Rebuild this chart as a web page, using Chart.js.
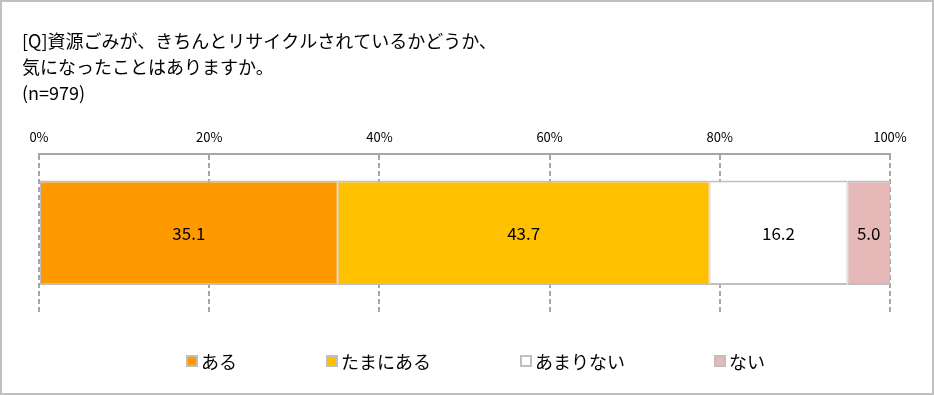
<!DOCTYPE html>
<html>
<head>
<meta charset="utf-8">
<script src="https://cdn.jsdelivr.net/npm/chart.js@4/dist/chart.umd.min.js"></script>
<style>
  body { margin: 0; background: #fff; }
  #wrap { position: relative; width: 934px; height: 395px; }
  #wrap:after { content: ""; position: absolute; left: 0; top: 0; right: 0; bottom: 0;
    border: 2px solid #c0c0c0; pointer-events: none; }
</style>
</head>
<body>
<div id="wrap"><canvas id="out" width="934" height="395"></canvas></div>
<script>
// data
const titleLines = ["[Q]資源ごみが、きちんとリサイクルされているかどうか、", "気になったことはありますか。", "(n=979)"];
const categories = [""];
const seriesNames = ["ある", "たまにある", "あまりない", "ない"];
const seriesValues = [[35.1], [43.7], [16.2], [5.0]];
const seriesColors = ["#ff9900", "#ffc000", "#ffffff", "#e6b9b8"];
const xTicks = [0, 20, 40, 60, 80, 100];

const jpFont = "'Noto Sans CJK JP', 'Noto Sans', sans-serif";

// numbers inside the bars
const valueLabels = {
  id: "valueLabels",
  afterDatasetsDraw(chart) {
    const ctx = chart.ctx;
    ctx.save();
    ctx.font = "17px " + jpFont;
    ctx.fillStyle = "#000";
    ctx.textAlign = "center";
    ctx.textBaseline = "middle";
    chart.data.datasets.forEach((ds, i) => {
      chart.getDatasetMeta(i).data.forEach((bar, j) => {
        const p = bar.getProps(["x", "y", "base"], true);
        ctx.fillText(ds.data[j].toFixed(1), (p.x + p.base) / 2, p.y + 1);
      });
    });
    ctx.restore();
  }
};

// legend spread out like the original
const wideLegend = {
  id: "wideLegend",
  afterDraw(chart) {
    const ctx = chart.ctx;
    ctx.save();
    ctx.font = "18px " + jpFont;
    ctx.textBaseline = "middle";
    let x = 186;
    const y = 361;
    chart.data.datasets.forEach(ds => {
      ctx.fillStyle = "#bfbfbf";
      ctx.fillRect(x, y - 6, 12, 12);
      ctx.fillStyle = ds.backgroundColor;
      ctx.fillRect(x + 2, y - 4, 8, 8);
      ctx.fillStyle = "#000";
      ctx.fillText(ds.label, x + 15, y + 1);
      x += 15 + ctx.measureText(ds.label).width + 89;
    });
    ctx.restore();
  }
};

const chartConfig = {
  type: "bar",
  data: {
    labels: categories,
    datasets: seriesNames.map((name, i) => ({
      label: name,
      data: seriesValues[i],
      backgroundColor: seriesColors[i],
      borderColor: "#bfbfbf",
      borderWidth: { top: 2, bottom: 2, left: 1, right: 1 },
      borderSkipped: false,
      barPercentage: 0.66,
      categoryPercentage: 1
    }))
  },
  options: {
    indexAxis: "y",
    responsive: false,
    animation: false,
    layout: { padding: { top: 0, left: 22, right: 44, bottom: 83 } },
    scales: {
      x: {
        position: "top",
        stacked: true,
        min: 0,
        max: 100,
        afterBuildTicks(scale) { scale.ticks = xTicks.map(v => ({ value: v })); },
        ticks: {
          padding: 9,
          color: "#000",
          font: { size: 13, family: jpFont, lineHeight: 1.2 },
          callback: v => v + "%"
        },
        grid: { color: "#a6a6a6", lineWidth: 2, drawTicks: false },
        border: { display: true, color: "#a6a6a6", width: 2, dash: [5, 3] }
      },
      y: {
        stacked: true,
        ticks: { display: false },
        grid: { display: false },
        border: { display: false },
        afterFit(scale) { scale.width = 17; }
      }
    },
    plugins: {
      legend: { display: false },
      tooltip: { enabled: false },
      title: {
        display: true,
        text: titleLines,
        align: "start",
        color: "#000",
        font: { size: 18, family: jpFont, weight: "normal", lineHeight: 1.444 },
        padding: { top: 28, bottom: 14 }
      }
    }
  },
  plugins: [valueLabels, wideLegend]
};

window.chart = new Chart(document.getElementById("out").getContext("2d"), chartConfig);
</script>
</body>
</html>
